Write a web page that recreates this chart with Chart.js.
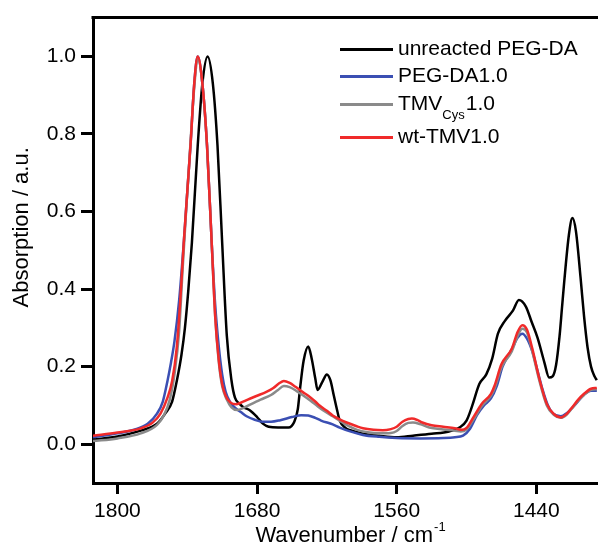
<!DOCTYPE html>
<html>
<head>
<meta charset="utf-8">
<script src="https://cdn.jsdelivr.net/npm/chart.js@4.4.1/dist/chart.umd.min.js"></script>
<style>
  body { margin: 0; background: #fff; }
  .chart { position: relative; width: 598px; height: 552px; }
</style>
</head>
<body>
<div class="chart"><canvas id="chart"></canvas></div>
<script>
// wavenumber (cm-1) and absorption for each spectrum
const wnUnreacted = [1821, 1800, 1780, 1766, 1759, 1753, 1749, 1745, 1742, 1739, 1736, 1731, 1727, 1722.5, 1718, 1714, 1710, 1706, 1702, 1699, 1695, 1692, 1686, 1680, 1675, 1670, 1662, 1653, 1648, 1645, 1643, 1640, 1636, 1633, 1630, 1628, 1624, 1620, 1617, 1614, 1611, 1609, 1604, 1600, 1590, 1575, 1560, 1546, 1530, 1515, 1506, 1500, 1495, 1489, 1483, 1478, 1473, 1467, 1460, 1455, 1449, 1444, 1439, 1433, 1429, 1426, 1423, 1420, 1418, 1416, 1412, 1409, 1406, 1402, 1399, 1396, 1393, 1390, 1388];
const absUnreacted = [0.012, 0.02, 0.035, 0.053, 0.079, 0.11, 0.163, 0.23, 0.30, 0.40, 0.52, 0.77, 0.93, 1.0, 0.93, 0.77, 0.52, 0.28, 0.165, 0.12, 0.104, 0.096, 0.087, 0.07, 0.053, 0.045, 0.043, 0.043, 0.058, 0.09, 0.145, 0.215, 0.252, 0.22, 0.17, 0.14, 0.16, 0.18, 0.165, 0.125, 0.085, 0.061, 0.042, 0.036, 0.028, 0.022, 0.018, 0.022, 0.027, 0.033, 0.043, 0.061, 0.10, 0.155, 0.18, 0.22, 0.285, 0.318, 0.345, 0.372, 0.355, 0.315, 0.275, 0.21, 0.172, 0.175, 0.205, 0.28, 0.35, 0.42, 0.54, 0.583, 0.55, 0.43, 0.33, 0.25, 0.2, 0.175, 0.165];

const wnPegDa = [1821, 1800, 1785, 1774, 1766, 1761, 1757, 1754, 1751, 1747, 1743, 1740, 1737, 1734, 1731, 1727, 1723, 1719, 1716, 1713, 1710, 1707, 1703, 1699, 1694, 1689, 1682, 1675, 1668, 1660, 1650, 1642, 1636, 1630, 1625, 1615, 1609, 1600, 1589, 1575, 1560, 1540, 1520, 1510, 1503, 1497, 1491, 1485, 1479, 1474, 1469, 1461, 1456, 1452, 1448, 1443, 1439, 1435, 1430, 1426, 1419, 1414, 1406, 1399, 1393, 1388];
const absPegDa = [0.018, 0.028, 0.038, 0.053, 0.079, 0.11, 0.163, 0.21, 0.265, 0.37, 0.52, 0.65, 0.78, 0.93, 1.0, 0.93, 0.77, 0.52, 0.36, 0.255, 0.18, 0.135, 0.108, 0.094, 0.083, 0.072, 0.063, 0.058, 0.058, 0.062, 0.07, 0.075, 0.074, 0.068, 0.061, 0.051, 0.043, 0.033, 0.024, 0.019, 0.016, 0.015, 0.016, 0.018, 0.022, 0.04, 0.075, 0.1, 0.118, 0.15, 0.2, 0.245, 0.275, 0.285, 0.272, 0.235, 0.19, 0.145, 0.1, 0.08, 0.072, 0.08, 0.104, 0.128, 0.138, 0.138];

const wnTmvCys = [1821, 1800, 1780, 1766, 1760, 1755, 1751, 1747, 1744, 1741, 1738, 1734, 1731, 1727, 1723, 1719, 1716, 1713, 1710, 1706, 1702, 1697, 1692, 1686, 1677, 1668, 1662, 1657, 1652, 1646, 1640, 1634, 1628, 1623, 1615, 1609, 1602, 1594, 1585, 1575, 1565, 1560, 1555, 1550, 1546, 1540, 1532, 1520, 1510, 1505, 1500, 1494, 1487, 1479, 1476, 1470, 1461, 1456, 1452, 1448, 1443.5, 1437.5, 1431, 1425, 1419, 1414, 1410, 1404, 1399, 1393, 1388];
const absTmvCys = [0.008, 0.015, 0.028, 0.05, 0.075, 0.115, 0.18, 0.29, 0.45, 0.6, 0.74, 0.92, 0.995, 0.93, 0.77, 0.52, 0.33, 0.215, 0.15, 0.115, 0.095, 0.088, 0.093, 0.102, 0.115, 0.127, 0.14, 0.15, 0.147, 0.137, 0.125, 0.112, 0.098, 0.087, 0.072, 0.061, 0.048, 0.037, 0.031, 0.028, 0.029, 0.034, 0.047, 0.055, 0.056, 0.052, 0.043, 0.038, 0.035, 0.033, 0.038, 0.064, 0.098, 0.125, 0.143, 0.198, 0.24, 0.28, 0.298, 0.288, 0.24, 0.165, 0.1, 0.076, 0.068, 0.076, 0.09, 0.112, 0.127, 0.14, 0.142];

const wnWtTmv = [1821, 1800, 1780, 1770, 1763, 1757, 1753, 1749, 1746, 1743, 1740, 1737, 1734, 1731, 1727, 1723, 1719, 1716, 1713, 1710, 1707, 1703, 1698, 1694, 1688, 1680, 1672, 1666, 1661, 1657, 1652, 1647, 1641, 1636, 1630, 1626, 1620, 1615, 1609, 1603, 1595, 1589, 1580, 1572, 1565, 1560, 1555, 1550, 1547, 1542, 1538, 1530, 1520, 1510, 1504, 1500, 1494, 1487, 1479, 1476, 1470, 1461, 1456, 1452, 1448, 1443.5, 1437.5, 1431, 1425, 1419, 1414, 1410, 1404, 1399, 1393, 1388];
const absWtTmv = [0.022, 0.03, 0.041, 0.055, 0.079, 0.12, 0.163, 0.25, 0.37, 0.52, 0.65, 0.78, 0.93, 1.0, 0.93, 0.77, 0.52, 0.33, 0.22, 0.155, 0.125, 0.108, 0.103, 0.107, 0.115, 0.125, 0.135, 0.145, 0.157, 0.163, 0.158, 0.148, 0.135, 0.125, 0.11, 0.099, 0.086, 0.074, 0.064, 0.056, 0.047, 0.041, 0.037, 0.036, 0.039, 0.045, 0.058, 0.065, 0.066, 0.062, 0.056, 0.049, 0.045, 0.041, 0.037, 0.042, 0.07, 0.104, 0.13, 0.15, 0.206, 0.247, 0.29, 0.307, 0.295, 0.247, 0.17, 0.104, 0.078, 0.069, 0.078, 0.092, 0.115, 0.13, 0.143, 0.145];

const seriesLabels = ['unreacted PEG-DA', 'PEG-DA1.0', 'TMVCys1.0', 'wt-TMV1.0'];
const xTicks = [1800, 1680, 1560, 1440];
const yTicks = [0, 0.2, 0.4, 0.6, 0.8, 1.0];

const FONT = '"Liberation Sans", Arial, sans-serif';
Chart.defaults.font.family = FONT;
Chart.defaults.color = '#000';

const toPoints = (xs, ys) => xs.map((x, i) => ({ x, y: ys[i] }));

const colors = ['#000000', '#3b4fb3', '#8a8a8a', '#f02a2a'];

// top frame line and axis titles (superscript / subscript need manual text)
const frame = {
  id: 'frame',
  afterDraw(chart) {
    const { ctx, chartArea: { left, top, bottom } } = chart;
    ctx.save();
    ctx.strokeStyle = '#000';
    ctx.lineWidth = 3;
    ctx.beginPath();
    ctx.moveTo(left - 1.5, top);
    ctx.lineTo(chart.width, top);
    ctx.stroke();

    ctx.fillStyle = '#000';
    ctx.font = `22px ${FONT}`;
    ctx.textBaseline = 'alphabetic';
    const main = 'Wavenumber / cm';
    const wMain = ctx.measureText(main).width;
    ctx.font = `13px ${FONT}`;
    const wSup = ctx.measureText('-1').width;
    const x0 = 350 - (wMain + wSup) / 2;
    ctx.font = `22px ${FONT}`;
    ctx.textAlign = 'left';
    ctx.fillText(main, x0, bottom + 59);
    ctx.font = `13px ${FONT}`;
    ctx.fillText('-1', x0 + wMain + 1, bottom + 48);

    ctx.font = `22px ${FONT}`;
    ctx.textAlign = 'center';
    ctx.textBaseline = 'middle';
    ctx.translate(22, (top + bottom) / 2 - 23);
    ctx.rotate(-Math.PI / 2);
    ctx.fillText('Absorption / a.u.', 0, 0);
    ctx.restore();
  },
};

const legend = {
  id: 'legendBox',
  afterDraw(chart) {
    const { ctx, chartArea: { left, top } } = chart;
    const rows = [32, 59, 87, 120];
    ctx.save();
    chart.data.datasets.forEach((ds, i) => {
      const y = top + rows[i];
      ctx.strokeStyle = ds.borderColor;
      ctx.lineWidth = 3;
      ctx.beginPath();
      ctx.moveTo(left + 247, y);
      ctx.lineTo(left + 300, y);
      ctx.stroke();

      ctx.fillStyle = '#000';
      ctx.textAlign = 'left';
      ctx.textBaseline = 'middle';
      let x = left + 305;
      const label = ds.label;
      if (label.includes('Cys')) {
        const [head, tail] = label.split('Cys');
        ctx.font = `21px ${FONT}`;
        ctx.fillText(head, x, y);
        x += ctx.measureText(head).width;
        ctx.font = `13px ${FONT}`;
        ctx.fillText('Cys', x, y + 11);
        x += ctx.measureText('Cys').width + 1;
        ctx.font = `21px ${FONT}`;
        ctx.fillText(tail, x, y);
      } else {
        ctx.font = `21px ${FONT}`;
        ctx.fillText(label, x, y);
      }
    });
    ctx.restore();
  },
};

const lineSet = (label, xs, ys, color, order) => ({
  label,
  data: toPoints(xs, ys),
  borderColor: color,
  borderWidth: 2.5,
  pointRadius: 0,
  fill: false,
  cubicInterpolationMode: 'monotone',
  order,
});

new Chart(document.getElementById('chart'), {
  type: 'line',
  data: {
    datasets: [
      lineSet(seriesLabels[0], wnUnreacted, absUnreacted, colors[0], 3),
      lineSet(seriesLabels[1], wnPegDa, absPegDa, colors[1], 2),
      lineSet(seriesLabels[2], wnTmvCys, absTmvCys, colors[2], 1),
      lineSet(seriesLabels[3], wnWtTmv, absWtTmv, colors[3], 0),
    ],
  },
  options: {
    responsive: true,
    maintainAspectRatio: false,
    animation: false,
    layout: { padding: { top: 13, right: 0, left: 0, bottom: 0 } },
    plugins: {
      legend: { display: false },
      tooltip: { enabled: false },
    },
    scales: {
      x: {
        type: 'linear',
        reverse: true,
        min: 1387,
        max: 1821,
        afterBuildTicks: (s) => { s.ticks = xTicks.map((v) => ({ value: v })); },
        afterFit: (s) => { s.height = 69; },
        ticks: {
          callback: (v) => String(v),
          font: { size: 21 },
          color: '#000',
          padding: 5,
          maxRotation: 0,
          autoSkip: false,
        },
        grid: {
          display: true,
          drawOnChartArea: false,
          drawTicks: true,
          tickLength: 11,
          tickWidth: 3,
          tickColor: '#000',
        },
        border: { display: true, width: 3, color: '#000' },
      },
      y: {
        type: 'linear',
        min: -0.1,
        max: 1.1,
        afterBuildTicks: (s) => { s.ticks = yTicks.map((v) => ({ value: v })); },
        afterFit: (s) => { s.width = 93; },
        ticks: {
          callback: (v) => v.toFixed(1),
          font: { size: 21 },
          color: '#000',
          padding: 5,
        },
        grid: {
          display: true,
          drawOnChartArea: false,
          drawTicks: true,
          tickLength: 12,
          tickWidth: 3,
          tickColor: '#000',
        },
        border: { display: true, width: 3, color: '#000' },
      },
    },
  },
  plugins: [frame, legend],
});
</script>
</body>
</html>
